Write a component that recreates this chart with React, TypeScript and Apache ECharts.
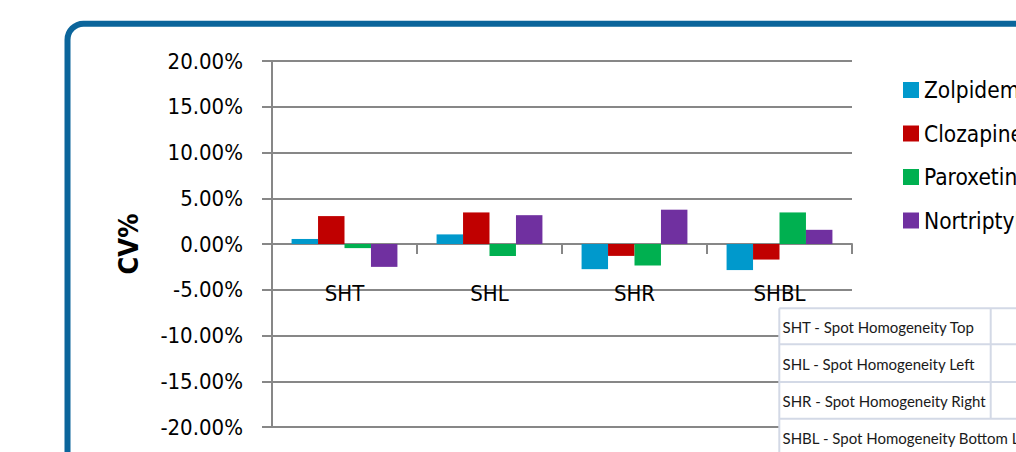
import React, { useEffect, useRef } from "react";
import * as echarts from "echarts";

const categories = ["SHT", "SHL", "SHR", "SHBL"];
const seriesNames = ["Zolpidem", "Clozapine", "Paroxetine", "Nortriptyline"];
const zolpidem = [0.55, 1.05, -2.75, -2.85];
const clozapine = [3.05, 3.45, -1.3, -1.7];
const paroxetine = [-0.45, -1.3, -2.35, 3.45];
const nortriptyline = [-2.5, 3.15, 3.75, 1.55];
const seriesColors = ["#0099cc", "#c00000", "#00b050", "#7030a0"];
const yMin = -20;
const yMax = 20;
const yInterval = 5;
const tableRows = [
  "SHT - Spot Homogeneity Top",
  "SHL - Spot Homogeneity Left",
  "SHR - Spot Homogeneity Right",
  "SHBL - Spot Homogeneity Bottom Left",
];

const FONT = "'DejaVu Sans Condensed', 'Liberation Sans Narrow', sans-serif";
const TABLE_FONT = "Lato, 'Noto Sans', sans-serif";

export default function App() {
  const ref = useRef<HTMLDivElement>(null);
  useEffect(() => {
    if (!ref.current) return;
    const chart = echarts.init(ref.current, undefined, { renderer: "svg" });
    const values = [zolpidem, clozapine, paroxetine, nortriptyline];

    const tableTop = 308.3;
    const rowLines = [308.3, 344.3, 382, 418.7];
    const tableLeft = 779.3;
    const colLine = 990.7;
    const borderColor = "#d3d9e6";
    const tableGraphics: any[] = [
      {
        type: "rect",
        z: 100,
        shape: { x: tableLeft, y: tableTop, width: 300, height: 200 },
        style: { fill: "#ffffff" },
      },
    ];
    rowLines.forEach((y) => {
      tableGraphics.push({
        type: "line",
        z: 101,
        shape: { x1: tableLeft, y1: y, x2: 1030, y2: y },
        style: { stroke: borderColor, lineWidth: 2 },
      });
    });
    tableGraphics.push({
      type: "line",
      z: 101,
      shape: { x1: tableLeft, y1: tableTop, x2: tableLeft, y2: 460 },
      style: { stroke: borderColor, lineWidth: 2 },
    });
    tableGraphics.push({
      type: "line",
      z: 101,
      shape: { x1: colLine, y1: tableTop, x2: colLine, y2: rowLines[3] },
      style: { stroke: borderColor, lineWidth: 2 },
    });
    tableRows.forEach((t, i) => {
      tableGraphics.push({
        type: "text",
        z: 102,
        x: 782.5,
        y: tableTop + 19 + i * 37,
        style: {
          text: t,
          fill: "#1a1a1a",
          font: `15px ${TABLE_FONT}`,
          verticalAlign: "middle",
          align: "left",
        },
      });
    });

    const gridTop = 61;
    const gridBottomPx = 427;
    const zeroPx = gridTop + ((yMax - 0) / (yMax - yMin)) * (gridBottomPx - gridTop);

    chart.setOption({
      animation: false,
      backgroundColor: "#ffffff",
      grid: {
        left: 272,
        right: 164,
        top: gridTop,
        bottom: 452 - gridBottomPx,
        containLabel: false,
        outerBoundsMode: "none",
      },
      legend: {
        orient: "vertical",
        left: 898,
        top: 73,
        itemWidth: 16,
        itemHeight: 16,
        itemGap: 19.5,
        icon: "rect",
        data: seriesNames,
        textStyle: {
          fontFamily: FONT,
          fontSize: 22.5,
          lineHeight: 24,
          color: "#000",
        },
      },
      xAxis: [
        {
          type: "category",
          data: categories,
          axisLine: { onZero: true, lineStyle: { color: "#878787", width: 2 } },
          axisTick: { show: true, length: 10, lineStyle: { color: "#878787", width: 2 } },
          axisLabel: { show: false },
          splitLine: { show: false },
        },
        {
          type: "category",
          data: categories,
          position: "bottom",
          offset: -(gridBottomPx - zeroPx),
          axisLine: { show: false, onZero: false },
          axisTick: { show: false },
          axisLabel: {
            margin: 38,
            fontFamily: FONT,
            fontSize: 22,
            color: "#000",
          },
          splitLine: { show: false },
        },
      ],
      yAxis: {
        type: "value",
        min: yMin,
        max: yMax,
        interval: yInterval,
        name: "CV%",
        nameLocation: "middle",
        nameRotate: 90,
        nameGap: 130,
        nameTextStyle: {
          fontFamily: FONT,
          fontSize: 27,
          fontWeight: "bold",
          color: "#000",
        },
        axisLine: { show: true, lineStyle: { color: "#878787", width: 2 } },
        axisTick: { show: true, length: 10, lineStyle: { color: "#878787", width: 2 } },
        axisLabel: {
          margin: 29,
          fontFamily: FONT,
          fontSize: 22,
          color: "#000",
          formatter: (v: number) => v.toFixed(2) + "%",
        },
        splitLine: { show: true, lineStyle: { color: "#878787", width: 2 } },
      },
      series: seriesNames.map((name, i) => ({
        name,
        type: "bar",
        xAxisIndex: 0,
        data: values[i],
        barGap: "0%",
        barCategoryGap: "27%",
        itemStyle: { color: seriesColors[i] },
      })),
      graphic: [
        {
          type: "rect",
          z: 100,
          shape: { x: 67.5, y: 23.7, width: 1100, height: 700, r: 16 },
          style: { fill: "none", stroke: "#0b659b", lineWidth: 6 },
        },
        ...tableGraphics,
      ],
    });
    return () => chart.dispose();
  }, []);
  return (
    <div
      ref={ref}
      style={{ position: "absolute", left: 0, top: 0, width: 1016, height: 452, overflow: "hidden" }}
    />
  );
}
